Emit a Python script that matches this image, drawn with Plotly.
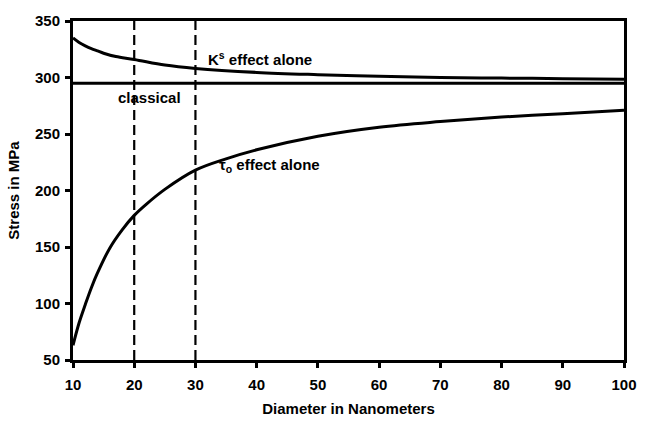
import plotly.graph_objects as go

# Data
diam_ks = [10, 11, 12, 13, 14, 15, 17, 20, 25, 30, 40, 50, 60, 70, 80, 90, 100]
stress_ks = [335, 331, 328, 325.5, 323.5, 321.5, 318.5, 316, 311, 308, 304.5, 302.5, 301, 300, 299.5, 299, 298.5]

diam_classical = [10, 100]
stress_classical = [295, 295]

diam_tau = [10, 11, 12, 13, 14, 16, 18, 20, 22, 25, 30, 35, 40, 50, 60, 70, 80, 90, 100]
stress_tau = [63, 83, 99, 114, 127, 149, 165, 178, 188, 201, 218, 228, 236, 248, 256, 261, 265, 268, 271]

dashed_x = [20, 30]
y_range = [50, 350]
x_ticks = [10, 20, 30, 40, 50, 60, 70, 80, 90, 100]
y_ticks = [50, 100, 150, 200, 250, 300, 350]

FONT = "Liberation Sans, Arial, sans-serif"

fig = go.Figure()

for xv in dashed_x:
    fig.add_trace(go.Scatter(x=[xv, xv], y=y_range, mode="lines",
                             line=dict(color="black", width=2.2, dash="10px,5px"),
                             showlegend=False, hoverinfo="skip"))

fig.add_trace(go.Scatter(x=diam_ks, y=stress_ks, mode="lines",
                         line=dict(color="black", width=3, shape="spline"),
                         showlegend=False))
fig.add_trace(go.Scatter(x=diam_classical, y=stress_classical, mode="lines",
                         line=dict(color="black", width=3),
                         showlegend=False))
fig.add_trace(go.Scatter(x=diam_tau, y=stress_tau, mode="lines",
                         line=dict(color="black", width=3, shape="spline"),
                         showlegend=False))

ann_font = dict(family=FONT, size=15, color="black")
fig.add_annotation(x=31.8, y=317, text="<b>K<sup>s</sup> effect alone</b>", showarrow=False,
                   xanchor="left", yanchor="middle", font=ann_font)
fig.add_annotation(x=17.1, y=282, text="<b>classical</b>", showarrow=False,
                   xanchor="left", yanchor="middle", font=ann_font)
fig.add_annotation(x=33.6, y=222, text="<b>τ<sub>o</sub> effect alone</b>", showarrow=False,
                   xanchor="left", yanchor="middle", font=ann_font)

axis_common = dict(showline=True, linecolor="black", linewidth=3, mirror=True,
                   ticks="outside", ticklen=5, tickwidth=3, tickcolor="black",
                   showgrid=False, zeroline=False,
                   tickfont=dict(family=FONT, size=15, color="black"))

fig.update_xaxes(range=[10, 100], tickvals=x_ticks,
                 ticktext=[f"<b>{v}</b>" for v in x_ticks],
                 ticklabelstandoff=4,
                 title=dict(text="<b>Diameter in Nanometers</b>",
                            font=dict(family=FONT, size=15, color="black"), standoff=12),
                 **axis_common)
fig.update_yaxes(range=y_range, tickvals=y_ticks,
                 ticktext=[f"<b>{v}</b>" for v in y_ticks],
                 ticklabelstandoff=2,
                 title=dict(text="<b>Stress in MPa</b>",
                            font=dict(family=FONT, size=15, color="black"), standoff=12),
                 **axis_common)

fig.update_layout(width=649, height=428,
                  margin=dict(l=71, r=22, t=17, b=58),
                  paper_bgcolor="white", plot_bgcolor="white",
                  font=dict(family=FONT, color="black"))

fig.write_html("out.html", config={"displayModeBar": False},
               post_script="document.body.style.margin='0';document.body.style.overflow='hidden';")
